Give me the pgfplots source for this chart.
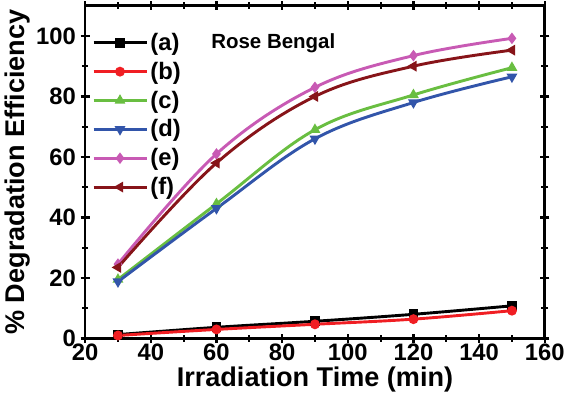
\documentclass[border=0pt]{standalone}
\usepackage{pgfplots}
\pgfplotsset{compat=1.18}
\usepackage{fontspec}
\setmainfont{Liberation Sans}
\definecolor{cA}{RGB}{0,0,0}
\definecolor{cB}{RGB}{240,30,35}
\definecolor{cC}{RGB}{105,190,65}
\definecolor{cD}{RGB}{50,85,170}
\definecolor{cE}{RGB}{200,90,180}
\definecolor{cF}{RGB}{135,20,25}
\begin{document}
\begin{tikzpicture}
\begin{axis}[
    scale only axis,
    width=348pt, height=252pt,
    xmin=20, xmax=160, ymin=0, ymax=110,
    xtick={20,40,...,160}, ytick={0,20,...,100},
    minor tick num=1,
    tick align=center,
    major tick length=7pt, minor tick length=5pt,
    every tick/.style={line width=1.6pt, black},
    axis line style={line width=2pt},
    font=\bfseries,
    ticklabel style={font=\fontsize{18}{20}\selectfont\bfseries},
    xticklabel style={yshift=3pt},
    /pgf/number format/assume math mode=true,
    xlabel={Irradiation Time (min)},
    ylabel={\% Degradation Efficiency},
    label style={font=\fontsize{20.5}{23}\selectfont\bfseries},
    xlabel style={yshift=2pt},
    ylabel style={yshift=-2pt},
    legend style={draw=none, fill=none, at={(0.012,0.93)}, anchor=north west,
        font=\fontsize{18}{20}\selectfont\bfseries, row sep=3.3pt,
        inner sep=1pt},
    legend cell align=left,
    legend image code/.code={
        \draw[mark repeat=2,mark phase=2]
        plot coordinates {(0cm,0cm) (0.7cm,0cm) (1.4cm,0cm)};},
    every axis plot/.append style={line width=2.2pt, smooth, tension=0.6, mark size=2.6pt},
]
\addplot[cA, mark=square*] coordinates {(30,1.3) (60,3.7) (90,5.7) (120,8) (150,10.8)};
\addlegendentry{(a)}
\addplot[cB, mark=*] coordinates {(30,1) (60,3) (90,4.7) (120,6.4) (150,9.2)};
\addlegendentry{(b)}
\addplot[cC, mark=triangle*] coordinates {(30,19.5) (60,44.5) (90,69) (120,80.5) (150,89.5)};
\addlegendentry{(c)}
\addplot[cD, mark=triangle*, every mark/.append style={rotate=180}] coordinates {(30,18.8) (60,43) (90,66) (120,78) (150,86.5)};
\addlegendentry{(d)}
\addplot[cE, mark=diamond*] coordinates {(30,24.6) (60,61) (90,83) (120,93.5) (150,99.2)};
\addlegendentry{(e)}
\addplot[cF, mark=triangle*, every mark/.append style={rotate=90}] coordinates {(30,23.5) (60,58) (90,80) (120,90) (150,95.3)};
\addlegendentry{(f)}
\node[anchor=west, font=\fontsize{15.5}{18}\selectfont\bfseries] at (axis cs:57,97.5) {Rose Bengal};
\end{axis}
\end{tikzpicture}
\end{document}
